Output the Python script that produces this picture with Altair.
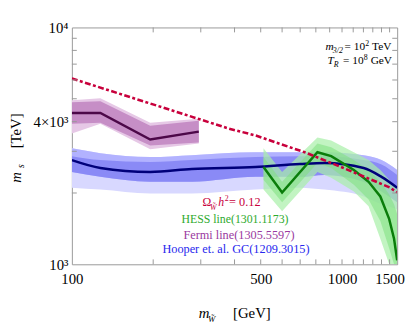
import altair as alt
import pandas as pd

SERIF = "Liberation Serif, Times New Roman, DejaVu Serif, serif"
W, H = 331, 241

# ---------------- data ----------------
# Hooper et al. GC (blue)
blue_x = [100, 127.5, 195, 278, 478, 698, 860, 1202, 1400, 1600]
blue_line = [2754, 2551, 2455, 2526, 2575, 2650, 2676, 2551, 2340, 2107]
blue_top = [3087, 2944, 2835, 2888, 2972, 2972, 2972, 2888, 2754, 2502]
blue_in_top = [2861, 2754, 2701, 2754, 2835, 2861, 2861, 2754, 2640, 2385]
blue_in_bot = [2455, 2340, 2231, 2231, 2340, 2340, 2385, 2231, 2028, 1826]
blue_out_bot = [2107, 2067, 1990, 1990, 2067, 2107, 2067, 1934, 1791, 1708]

# Fermi line (purple)
purple_x = [100, 127.5, 195, 295]
purple_line = [4355, 4355, 3365, 3633]
purple_top = [4931, 5026, 3960, 4113]
purple_in_top = [4838, 4885, 3848, 4036]
purple_in_bot = [3922, 3960, 3177, 3270]
purple_out_bot = [3564, 3922, 3058, 3239]

# HESS line (green)
green_x = [512, 600, 811, 912, 1106, 1254, 1386, 1495, 1558, 1600]
green_line = [2575, 2009, 2972, 2861, 2502, 2231, 1934, 1552, 1282, 1039]
green_out_top = [3087, 2455, 3430, 3333, 2972, 2754, 2502, 2275, 2148, 2067]
green_out_bot = [2067, 1675, 2455, 2318, 2028, 1757, 1282, 1000, 1000, 1000]
green_in_top = [2835, 2231, 3239, 3117, 2754, 2502, 2231, 1971, 1791, 1628]
green_in_bot = [2275, 1826, 2676, 2551, 2168, 1879, 1522, 1165, 1000, 1000]

# relic density line (red dash-dot)
red_x = [100, 382, 479, 727, 992, 1507, 1600]
red_y = [6085, 3738, 3497, 2972, 2575, 2107, 2009]

# ticks
x_tick_labels = [100, 500, 1000, 1500]
x_minor = [200, 300, 400, 500, 600, 700, 800, 900, 1000, 1100, 1200, 1300, 1400, 1500]
y_tick_labels = [1000, 4000, 10000]
y_minor = [2000, 3000, 4000, 5000, 6000, 7000, 8000, 9000]

# texts
txt_param1 = ["m", "3/2", "= 10", "2", "TeV"]
txt_param2 = ["T", "R", "= 10", "8", "GeV"]
txt_omega = ["Ω", "W̃", "h", "2", "= 0.12"]
txt_hess = "HESS line(1301.1173)"
txt_fermi = "Fermi line(1305.5597)"
txt_hooper = "Hooper et. al. GC(1209.3015)"
txt_xtitle = ["m", "W̃", "[GeV]"]
txt_ytitle = ["m", "s", "[TeV]"]

# ---------------- chart ----------------
xs = alt.Scale(type="log", domain=[100, 1600])
ys = alt.Scale(type="log", domain=[1000, 10000])

x_axis = alt.Axis(values=x_tick_labels, format="d", ticks=False, tickSize=0, domain=False,
                  grid=False, labelFont=SERIF, labelFontSize=15, labelColor="black",
                  labelPadding=8, labelFlush=False, labelOverlap=False, title=None)
y_axis = alt.Axis(values=y_tick_labels,
                  labelExpr="datum.value == 1000 ? '10³' : (datum.value == 4000 ? '4×10³' : '10⁴')",
                  ticks=False, tickSize=0, domain=False, grid=False, labelFont=SERIF,
                  labelFontSize=15, labelColor="black", labelPadding=4, labelFlush=False,
                  labelOverlap=False, title=None)


def X():
    return alt.X("x:Q", scale=xs, axis=x_axis, title=None)


def Y(f):
    return alt.Y(f + ":Q", scale=ys, axis=y_axis, title=None)


blue = pd.DataFrame(dict(x=blue_x, line=blue_line, top=blue_top, in_top=blue_in_top,
                         in_bot=blue_in_bot, out_bot=blue_out_bot))
purple = pd.DataFrame(dict(x=purple_x, line=purple_line, top=purple_top, in_top=purple_in_top,
                           in_bot=purple_in_bot, out_bot=purple_out_bot))
green = pd.DataFrame(dict(x=green_x, line=green_line, out_top=green_out_top, out_bot=green_out_bot,
                          in_top=green_in_top, in_bot=green_in_bot))
red = pd.DataFrame(dict(x=red_x, y=red_y))


def band(df, lo, hi, color, opacity=1.0, interp="linear"):
    return alt.Chart(df).mark_area(color=color, opacity=opacity, clip=True,
                                   interpolate=interp).encode(
        x=X(), y=Y(lo), y2=alt.Y2(hi + ":Q"))


def curve(df, f, color, width=2.5, interp="linear", dash=None):
    kw = dict(color=color, strokeWidth=width, clip=True, interpolate=interp)
    if dash:
        kw["strokeDash"] = dash
    return alt.Chart(df).mark_line(**kw).encode(x=X(), y=Y(f))


layers = [
    band(blue, "out_bot", "top", "#d8d8ff", interp="monotone"),
    band(blue, "in_bot", "top", "#b2b2ff", interp="monotone"),
    band(blue, "in_bot", "in_top", "#8a8af6", interp="monotone"),
    band(purple, "out_bot", "top", "#e6c8e6"),
    band(purple, "in_bot", "in_top", "#c68ec6"),
    band(green, "out_bot", "out_top", "#a8f0a8", 0.7),
    band(green, "in_bot", "in_top", "#7fe07f", 0.55),
    curve(blue, "line", "#00007a", interp="monotone"),
    curve(purple, "line", "#4c0848"),
    curve(green, "line", "#0a7d0a"),
    curve(red, "y", "#c8003c", 2.6, dash=[6, 2.5, 3, 2.5]),
]

# tick marks (inward, on all four sides)
xt = pd.DataFrame(dict(x=x_minor))
yt = pd.DataFrame(dict(y=y_minor))
TC = "#999999"
layers += [
    alt.Chart(xt).mark_rule(color=TC, strokeWidth=1).encode(x=X(), y=alt.value(H), y2=alt.value(H - 5)),
    alt.Chart(xt).mark_rule(color=TC, strokeWidth=1).encode(x=X(), y=alt.value(0), y2=alt.value(5)),
    alt.Chart(yt).mark_rule(color=TC, strokeWidth=1).encode(y=Y("y"), x=alt.value(0), x2=alt.value(5)),
    alt.Chart(yt).mark_rule(color=TC, strokeWidth=1).encode(y=Y("y"), x=alt.value(W), x2=alt.value(W - 5)),
]


def label(text, x, y, size=11, color="black", style="normal", align="left", angle=0):
    return alt.Chart(pd.DataFrame({"t": [text]})).mark_text(
        align=align, baseline="alphabetic", fontSize=size, font=SERIF, fontStyle=style,
        color=color, angle=angle).encode(x=alt.value(x), y=alt.value(y), text="t:N")


RED, GREEN, PURP, BLUE = "#c8003c", "#2eaa2e", "#9a3aa0", "#2828ee"
layers += [
    # parameter box
    label(txt_param1[0], 258, 23, 11.5, style="italic"),
    label(txt_param1[1], 265.5, 26, 8, style="italic"),
    label(txt_param1[2], 277.5, 23, 11.5),
    label(txt_param1[3], 298.5, 18.5, 8),
    label(txt_param1[4], 305.5, 23, 11.5),
    label(txt_param2[0], 260, 37.7, 11.5, style="italic"),
    label(txt_param2[1], 266.5, 40.7, 8, style="italic"),
    label(txt_param2[2], 276, 37.7, 11.5),
    label(txt_param2[3], 297, 33.2, 8),
    label(txt_param2[4], 304, 37.7, 11.5),
    # legend texts
    label(txt_omega[0], 133, 182, 12, RED),
    label(txt_omega[1], 140.5, 185.5, 8, RED, style="italic"),
    label(txt_omega[2], 149, 182, 12, RED, style="italic"),
    label(txt_omega[3], 155.5, 177, 8, RED),
    label(txt_omega[4], 160, 182, 12.5, RED),
    label(txt_hess, 166, 199, 12, GREEN, align="center"),
    label(txt_fermi, 170, 215, 12.5, PURP, align="center"),
    label(txt_hooper, 167, 230, 12.5, BLUE, align="center"),
    # axis titles
    label(txt_xtitle[0], 129, 296, 15, style="italic"),
    label(txt_xtitle[1], 138.5, 299.5, 9, style="italic"),
    label(txt_xtitle[2], 164, 296, 15),
    label(txt_ytitle[0], -52, 158, 15, style="italic", angle=270),
    label(txt_ytitle[1], -48.5, 143, 10, style="italic", angle=270),
    label(txt_ytitle[2], -52, 123, 15, angle=270),
]

chart = alt.layer(*layers).properties(
    width=W, height=H,
    autosize=alt.AutoSizeParams(type="none"),
    padding={"left": 65, "top": 17, "right": 10, "bottom": 60},
    background="white",
).configure_view(stroke="#999999", strokeWidth=1)

chart.save("out.html", embed_options={"renderer": "svg", "actions": False})
